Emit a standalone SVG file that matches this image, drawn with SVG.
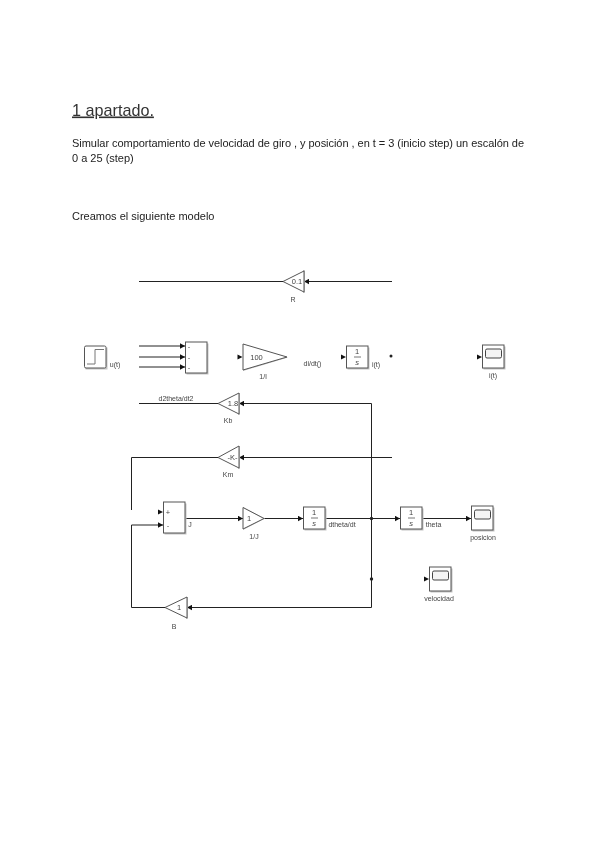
<svg xmlns="http://www.w3.org/2000/svg" width="600" height="848" viewBox="0 0 600 848">
<style>
text{font-family:"Liberation Sans",Arial,sans-serif;fill:#222;filter:url(#soft)}
.title{font-size:16.2px;text-decoration:underline;fill:#333}
.body{font-size:11px}
.lbl{font-size:7px;fill:#444;text-anchor:middle}
.val{font-size:7.5px;fill:#444;text-anchor:middle}
.blk{fill:#fff;stroke:#555;stroke-width:1}
.shd{fill:#c4c4c4;stroke:none}
.scr{fill:#f4f4f4;stroke:#444;stroke-width:1}
.st{fill:none;stroke:#777;stroke-width:1}
.wire{fill:none;stroke:#222;stroke-width:1}
.arr{marker-end:url(#ah)}
.dot{fill:#222}
</style>
<defs>
<filter id="soft" x="-10%" y="-30%" width="120%" height="160%"><feGaussianBlur stdDeviation="0.25"/></filter>
<marker id="ah" markerUnits="userSpaceOnUse" markerWidth="6" markerHeight="6" refX="5" refY="3" orient="auto"><path d="M0 0.3L5 3L0 5.7Z" fill="#111"/></marker>
<path id="pin" d="M0 -2.5L5 0L0 2.5Z" fill="#111"/>
</defs>
<g id="heading">
<text class="title" x="72" y="115.5">1 apartado.</text>
<text class="body" x="72" y="147" textLength="452" lengthAdjust="spacing">Simular comportamiento de velocidad de giro , y posición , en t = 3 (inicio step) un escalón de</text>
<text class="body" x="72" y="161.5">0 a 25 (step)</text>
<text class="body" x="72" y="220">Creamos el siguiente modelo</text>
</g>
<g id="connectors">
<path class="wire" d="M139 281.5H283"/>
<path class="wire arr" d="M392 281.5H304"/>
<path class="wire arr" d="M139 346H185"/>
<path class="wire arr" d="M139 357H185"/>
<path class="wire arr" d="M139 367H185"/>
<path class="wire" d="M139 403.5H218"/>
<path class="wire arr" d="M371.5 403.5H239"/>
<path class="wire" d="M371.5 403.5V607.5"/>
<path class="wire arr" d="M392 457.5H239"/>
<path class="wire" d="M218 457.5H131.5V510"/>
<path class="wire arr" d="M371.5 607.5H187"/>
<path class="wire arr" d="M165 607.5H131.5V525H163"/>
<path class="wire arr" d="M185 518.5H243"/>
<path class="wire arr" d="M264 518.5H303"/>
<path class="wire arr" d="M325 518.5H400"/>
<path class="wire arr" d="M422 518.5H471"/>
<circle class="dot" cx="371.5" cy="518.5" r="1.7"/>
<circle class="dot" cx="371.5" cy="579" r="1.7"/>
<circle class="dot" cx="391" cy="356" r="1.5"/>
<use href="#pin" x="158" y="512"/>
<use href="#pin" x="237.5" y="357"/>
<use href="#pin" x="341" y="357"/>
<use href="#pin" x="477" y="357"/>
<use href="#pin" x="424" y="579"/>
</g>
<g id="gain-R"><path class="shd" d="M305 270V293H303V270Z"/><path class="blk" d="M283 281.5L304 271V292Z"/><text class="val" x="297" y="284">0.1</text><text class="lbl" x="293" y="301.5">R</text></g>
<g id="step-u"><rect class="shd" x="85.5" y="347.5" width="22" height="22"/><rect class="blk" x="84.5" y="346" width="21.5" height="22" rx="1.5"/><path class="st" d="M87 364H95V349.5H104"/><text class="lbl" x="115" y="366.5">u(t)</text></g>
<g id="sum-1"><rect class="shd" x="186.5" y="343.5" width="22" height="31"/><rect class="blk" x="185.5" y="342" width="21.5" height="31"/><text class="val" x="189" y="348.5">-</text><text class="val" x="189" y="359.5">-</text><text class="val" x="189" y="369.5">-</text></g>
<g id="gain-1-L"><path class="shd" d="M243 344L288 357.5L243 371Z"/><path class="blk" d="M243 344L287 357L243 370Z"/><text class="val" x="256.5" y="359.5">100</text><text class="lbl" x="263" y="379">1/l</text></g>
<text class="lbl" x="312.5" y="365.5">di/dt()</text>
<g id="int-i"><rect class="shd" x="347.5" y="347.5" width="22" height="22"/><rect class="blk" x="346.5" y="346" width="21.5" height="22"/><text class="val" x="357" y="353.5">1</text><path class="st" d="M354 357H361"/><text class="val" x="357" y="365" font-style="italic">s</text><text class="lbl" x="376" y="366.5">i(t)</text></g>
<g id="scope-i"><rect class="shd" x="483.5" y="346.5" width="22" height="23"/><rect class="blk" x="482.5" y="345" width="21.5" height="23"/><rect class="scr" x="485.5" y="349" width="16" height="9" rx="1.5"/><text class="lbl" x="493" y="377.5">i(t)</text></g>
<g id="gain-Kb"><path class="shd" d="M240 393V415H238V393Z"/><path class="blk" d="M218 403.5L239 393V414Z"/><text class="val" x="233" y="406">1.8</text><text class="lbl" x="228" y="422.5">Kb</text></g>
<text class="lbl" x="176" y="400.5">d2theta/dt2</text>
<g id="gain-Km"><path class="shd" d="M240 446V469H238V446Z"/><path class="blk" d="M218 457.5L239 446V468Z"/><text class="val" x="232.5" y="460">-K-</text><text class="lbl" x="228" y="476.5">Km</text></g>
<g id="sum-2"><rect class="shd" x="164.5" y="503.5" width="22" height="31"/><rect class="blk" x="163.5" y="502" width="21.5" height="31"/><text class="val" x="168" y="514.5">+</text><text class="val" x="168" y="527.5">-</text><text class="lbl" x="190" y="526.5">J</text></g>
<g id="gain-1-J"><path class="shd" d="M243 507L265 518.5L243 530Z"/><path class="blk" d="M243 507.5L264 518.5L243 529Z"/><text class="val" x="249" y="521">1</text><text class="lbl" x="254" y="538.5">1/J</text></g>
<g id="int-theta-dot"><rect class="shd" x="304.5" y="508.5" width="22" height="22"/><rect class="blk" x="303.5" y="507" width="21.5" height="22"/><text class="val" x="314" y="514.5">1</text><path class="st" d="M311 518H318"/><text class="val" x="314" y="526" font-style="italic">s</text><text class="lbl" x="342" y="526.5">dtheta/dt</text></g>
<g id="int-theta"><rect class="shd" x="401.5" y="508.5" width="22" height="22"/><rect class="blk" x="400.5" y="507" width="21.5" height="22"/><text class="val" x="411" y="514.5">1</text><path class="st" d="M408 518H415"/><text class="val" x="411" y="526" font-style="italic">s</text><text class="lbl" x="433.5" y="526.5">theta</text></g>
<g id="scope-position"><rect class="shd" x="472.5" y="507.5" width="22" height="24"/><rect class="blk" x="471.5" y="506" width="21.5" height="24"/><rect class="scr" x="474.5" y="510" width="16" height="9" rx="1.5"/><text class="lbl" x="483" y="539.5">posicion</text></g>
<g id="scope-velocidad"><rect class="shd" x="430.5" y="568.5" width="22" height="24"/><rect class="blk" x="429.5" y="567" width="21.5" height="24"/><rect class="scr" x="432.5" y="571" width="16" height="9" rx="1.5"/><text class="lbl" x="439" y="600.5">velocidad</text></g>
<g id="gain-B"><path class="shd" d="M188 597V619H186V597Z"/><path class="blk" d="M165 607.5L187 597V618Z"/><text class="val" x="179" y="610">1</text><text class="lbl" x="174" y="628.5">B</text></g>
</svg>
